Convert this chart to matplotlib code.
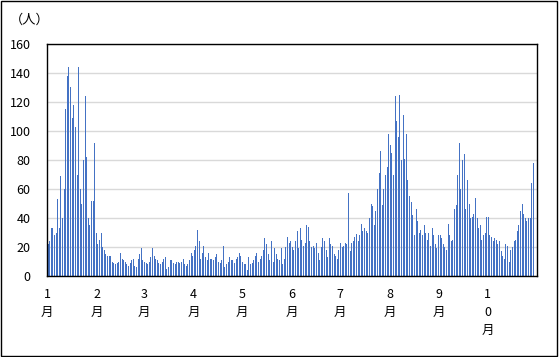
import numpy as np
import matplotlib
matplotlib.use("Agg")
import matplotlib.pyplot as plt
from matplotlib.patches import Rectangle

plt.rcParams['font.family'] = ['Noto Sans CJK JP', 'DejaVu Sans']

# daily counts, 2020-01-01 .. 2020-10-29
jan = [22, 24, 33, 33, 28, 30, 53, 33, 69, 40, 60, 115, 138, 144, 130, 109,
       118, 103, 70, 144, 60, 50, 80, 124, 82, 40, 35, 52, 52, 92, 30]
feb = [22, 25, 30, 20, 18, 15, 14, 14, 14, 10, 9, 8, 9, 10, 16, 12, 11, 10,
       8, 7, 9, 11, 12, 7, 6, 12, 15, 19, 11]
mar = [10, 9, 8, 10, 13, 19, 14, 12, 11, 9, 8, 10, 12, 13, 5, 6, 11, 11, 9,
       8, 10, 10, 9, 10, 12, 8, 7, 8, 11, 16, 14]
apr = [18, 21, 32, 24, 12, 16, 21, 13, 11, 16, 12, 12, 11, 13, 15, 10, 9, 11,
       21, 6, 8, 10, 13, 11, 11, 9, 12, 13, 16, 14]
may = [10, 8, 8, 4, 13, 8, 9, 11, 14, 16, 10, 12, 14, 18, 26, 22, 15, 11, 24,
       10, 19, 15, 12, 11, 19, 8, 12, 20, 27, 23, 24]
jun = [20, 18, 24, 31, 19, 33, 25, 21, 23, 35, 34, 24, 20, 21, 19, 23, 16, 11,
       20, 26, 24, 18, 13, 26, 22, 21, 15, 14, 12, 18]
jul = [23, 20, 21, 23, 22, 57, 17, 23, 24, 27, 29, 24, 28, 36, 31, 33, 31, 30,
       40, 50, 48, 35, 45, 60, 71, 86, 49, 60, 70, 75, 98]
aug = [90, 85, 70, 124, 107, 96, 125, 80, 111, 81, 98, 66, 55, 51, 42, 28,
       46, 38, 30, 32, 28, 35, 30, 25, 30, 21, 33, 28, 22, 19, 28]
sep = [28, 26, 22, 20, 18, 36, 28, 24, 25, 46, 49, 70, 92, 60, 80, 84, 46, 66,
       50, 40, 41, 43, 54, 40, 33, 35, 25, 28, 30, 41]
oct_ = [41, 28, 27, 24, 26, 25, 22, 24, 17, 14, 12, 22, 21, 10, 18, 20, 24,
        25, 31, 35, 45, 50, 43, 40, 38, 40, 40, 64, 78]

month_starts = [0, 31, 60, 91, 121, 152, 182, 213, 244, 274]
month_labels = ["1\n月", "2\n月", "3\n月", "4\n月", "5\n月", "6\n月",
                "7\n月", "8\n月", "9\n月", "1\n0\n月"]
n_days_axis = 305

counts = jan + feb + mar + apr + may + jun + jul + aug + sep + oct_
days = np.arange(len(counts))

fig = plt.figure(figsize=(5.6, 3.57), dpi=100)
ax = fig.add_axes([47.3 / 560, 81 / 357, 490 / 560, 232 / 357])

# about one pixel per bar, like the original
ax.bar(days, counts, width=0.62, color='#4472C4', antialiased=False, zorder=2)

ax.set_xlim(-0.5, n_days_axis - 0.5)
ax.set_ylim(0, 160)
ax.set_yticks(range(0, 161, 20))
ax.yaxis.grid(True, color='#d9d9d9', linewidth=1, zorder=0)
ax.set_axisbelow(True)

ax.set_xticks([m - 0.5 for m in month_starts])
ax.set_xticklabels(month_labels, fontsize=9, linespacing=1.45, va='top')
ax.tick_params(axis='x', length=0, pad=9)
ax.tick_params(axis='y', length=0, pad=12, labelsize=9)

for s in ax.spines.values():
    s.set_color('black')
    s.set_linewidth(1)

fig.text(30 / 560, 1 - 20 / 357, "（人）", fontsize=9.5, ha='center', va='center')

fig.patches.append(Rectangle((0.002, 0.004), 0.993, 0.992, transform=fig.transFigure,
                             fill=False, edgecolor='black', linewidth=1))

fig.savefig("out.png", dpi=100)
